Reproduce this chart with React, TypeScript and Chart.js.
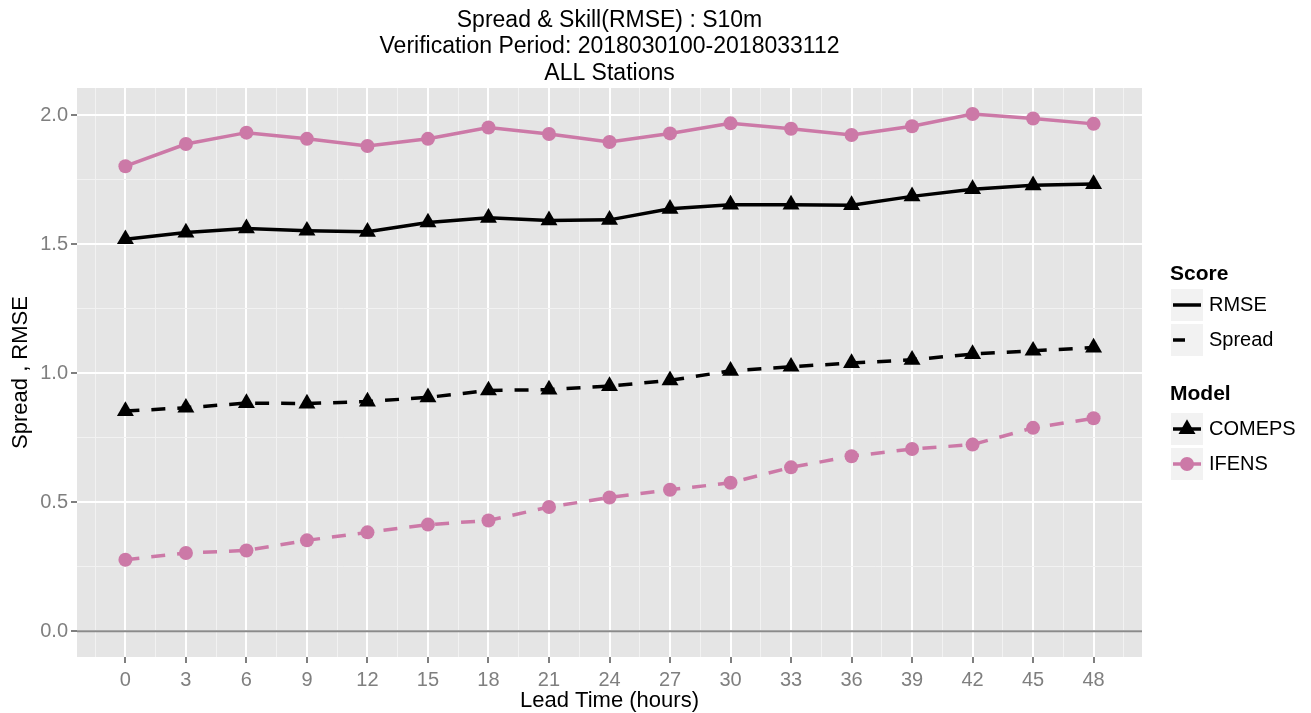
import React, { useEffect, useRef } from 'react';
import { Chart, registerables } from 'chart.js';

Chart.register(...registerables);

const TITLE_LINES = [
  'Spread & Skill(RMSE) : S10m',
  'Verification Period: 2018030100-2018033112',
  'ALL Stations',
];
const X_TITLE = 'Lead Time (hours)';
const Y_TITLE = 'Spread , RMSE';

const leadTimes = [0, 3, 6, 9, 12, 15, 18, 21, 24, 27, 30, 33, 36, 39, 42, 45, 48];
const xMinorTicks = [-1.5, 1.5, 4.5, 7.5, 10.5, 13.5, 16.5, 19.5, 22.5, 25.5, 28.5, 31.5, 34.5, 37.5, 40.5, 43.5, 46.5, 49.5];
const yMajorTicks = [0, 0.5, 1.0, 1.5, 2.0];
const yMinorTicks = [0.25, 0.75, 1.25, 1.75];

const ifensRmse = [1.802, 1.888, 1.932, 1.908, 1.880, 1.908, 1.952, 1.927, 1.896, 1.929, 1.968, 1.947, 1.923, 1.957, 2.004, 1.987, 1.966];
const comepsRmse = [1.519, 1.545, 1.561, 1.552, 1.548, 1.584, 1.602, 1.592, 1.594, 1.637, 1.653, 1.653, 1.651, 1.685, 1.713, 1.728, 1.733];
const comepsSpread = [0.853, 0.866, 0.884, 0.882, 0.890, 0.906, 0.933, 0.936, 0.950, 0.972, 1.009, 1.025, 1.039, 1.052, 1.074, 1.087, 1.099];
const ifensSpread = [0.277, 0.303, 0.313, 0.352, 0.383, 0.413, 0.429, 0.481, 0.518, 0.548, 0.575, 0.635, 0.678, 0.706, 0.723, 0.788, 0.825];

const scoreTitle = 'Score';
const scoreLabels = ['RMSE', 'Spread'];
const modelTitle = 'Model';
const modelLabels = ['COMEPS', 'IFENS'];

const FONT = "'Liberation Sans', Arial, Helvetica, sans-serif";
const PINK = '#CC79A7';
const BLACK = '#000000';
const PANEL = '#E5E5E5';
const MINOR = '#F2F2F2';
const TICK_GREY = '#7F7F7F';
const DASH = [14, 12];

const toPoints = (ys: number[]) => leadTimes.map((x, i) => ({ x, y: ys[i] }));

function drawTriangle(ctx: CanvasRenderingContext2D, x: number, y: number, r: number) {
  ctx.beginPath();
  for (let k = 0; k < 3; k++) {
    const a = (k * 2 * Math.PI) / 3;
    const px = x + Math.sin(a) * r;
    const py = y - Math.cos(a) * r;
    if (k === 0) ctx.moveTo(px, py);
    else ctx.lineTo(px, py);
  }
  ctx.closePath();
  ctx.fill();
}

const panelPlugin = {
  id: 'panelPlugin',
  beforeDraw(chart: any) {
    const { ctx, chartArea } = chart;
    ctx.save();
    ctx.fillStyle = PANEL;
    ctx.fillRect(chartArea.left, chartArea.top, chartArea.right - chartArea.left, chartArea.bottom - chartArea.top);
    ctx.restore();
  },
  beforeDatasetsDraw(chart: any) {
    const { ctx, chartArea, scales } = chart;
    const y0 = scales.y.getPixelForValue(0);
    ctx.save();
    ctx.strokeStyle = '#8A8A8A';
    ctx.lineWidth = 2;
    ctx.beginPath();
    ctx.moveTo(chartArea.left, y0);
    ctx.lineTo(chartArea.right, y0);
    ctx.stroke();
    ctx.restore();
  },
  afterDraw(chart: any) {
    const { ctx } = chart;
    ctx.save();
    const boxX = 1171;
    const boxW = 32;
    const labelX = 1209;
    // Score section
    ctx.fillStyle = BLACK;
    ctx.font = `bold 21px ${FONT}`;
    ctx.textBaseline = 'alphabetic';
    ctx.textAlign = 'left';
    ctx.fillText(scoreTitle, 1170, 280);
    const scoreY = [289, 324];
    scoreLabels.forEach((lab, i) => {
      const top = scoreY[i];
      const cy = top + boxW / 2;
      ctx.fillStyle = MINOR;
      ctx.fillRect(boxX, top, boxW, boxW);
      ctx.strokeStyle = BLACK;
      ctx.lineWidth = 3.5;
      ctx.beginPath();
      if (i === 0) {
        ctx.moveTo(boxX + 2, cy);
        ctx.lineTo(boxX + boxW - 2, cy);
      } else {
        ctx.moveTo(boxX + 2, cy);
        ctx.lineTo(boxX + 14, cy);
      }
      ctx.stroke();
      ctx.fillStyle = BLACK;
      ctx.font = `20px ${FONT}`;
      ctx.textBaseline = 'middle';
      ctx.fillText(lab, labelX, cy);
    });
    // Model section
    ctx.fillStyle = BLACK;
    ctx.font = `bold 21px ${FONT}`;
    ctx.textBaseline = 'alphabetic';
    ctx.fillText(modelTitle, 1170, 400);
    const modelY = [413, 448];
    const modelColors = [BLACK, PINK];
    modelLabels.forEach((lab, i) => {
      const top = modelY[i];
      const cy = top + boxW / 2;
      const cx = boxX + boxW / 2;
      ctx.fillStyle = MINOR;
      ctx.fillRect(boxX, top, boxW, boxW);
      ctx.strokeStyle = modelColors[i];
      ctx.lineWidth = 3.5;
      ctx.beginPath();
      ctx.moveTo(boxX + 2, cy);
      ctx.lineTo(boxX + boxW - 2, cy);
      ctx.stroke();
      ctx.fillStyle = modelColors[i];
      if (i === 0) {
        drawTriangle(ctx, cx, cy, 9.8);
      } else {
        ctx.beginPath();
        ctx.arc(cx, cy, 7, 0, Math.PI * 2);
        ctx.fill();
      }
      ctx.fillStyle = BLACK;
      ctx.font = `20px ${FONT}`;
      ctx.textBaseline = 'middle';
      ctx.fillText(lab, labelX, cy);
    });
    ctx.restore();
  },
};

export default function App() {
  const canvasRef = useRef<HTMLCanvasElement | null>(null);

  useEffect(() => {
    const canvas = canvasRef.current;
    if (!canvas) return;
    const xMajorSet = new Set(leadTimes);
    const yMajorSet = new Set(yMajorTicks);

    const lineDs = (label: string, ys: number[], color: string, dashed: boolean, style: string, radius: number) => ({
      label,
      data: toPoints(ys),
      borderColor: color,
      backgroundColor: color,
      borderWidth: 3.5,
      borderDash: dashed ? DASH : [],
      pointStyle: style,
      pointRadius: radius,
      pointBackgroundColor: color,
      pointBorderColor: color,
      pointBorderWidth: 0,
      tension: 0,
      fill: false,
    });

    const chart = new Chart(canvas, {
      type: 'line',
      data: {
        datasets: [
          lineDs('COMEPS Spread', comepsSpread, BLACK, true, 'triangle', 9.8),
          lineDs('IFENS Spread', ifensSpread, PINK, true, 'circle', 7),
          lineDs('COMEPS RMSE', comepsRmse, BLACK, false, 'triangle', 9.8),
          lineDs('IFENS RMSE', ifensRmse, PINK, false, 'circle', 7),
        ] as any,
      },
      options: {
        responsive: false,
        animation: false,
        devicePixelRatio: 1,
        events: [],
        layout: { padding: { left: 0, right: 169, top: 0, bottom: 0 } },
        plugins: {
          legend: { display: false },
          tooltip: { enabled: false },
          title: {
            display: true,
            text: TITLE_LINES,
            fullSize: false,
            color: BLACK,
            font: { family: FONT, size: 23, weight: 'normal', lineHeight: '26.5px' } as any,
            padding: { top: 7, bottom: 1.5 },
          },
        },
        scales: {
          x: {
            type: 'linear',
            min: -2.4,
            max: 50.4,
            afterBuildTicks: (s: any) => {
              s.ticks = [...leadTimes, ...xMinorTicks].sort((a, b) => a - b).map((v) => ({ value: v }));
            },
            afterFit: (s: any) => {
              s.height = 56;
            },
            border: { display: false },
            grid: {
              color: (c: any) => (c.tick && xMajorSet.has(c.tick.value) ? '#FFFFFF' : MINOR),
              lineWidth: (c: any) => (c.tick && xMajorSet.has(c.tick.value) ? 2 : 1),
              tickColor: (c: any) => (c.tick && xMajorSet.has(c.tick.value) ? TICK_GREY : 'rgba(0,0,0,0)'),
              tickLength: 6,
              tickWidth: 2,
              drawTicks: true,
            },
            ticks: {
              autoSkip: false,
              maxRotation: 0,
              minRotation: 0,
              padding: 5,
              color: TICK_GREY,
              font: { family: FONT, size: 20 },
              callback: (v: any) => (xMajorSet.has(v) ? String(v) : ''),
            },
            title: {
              display: true,
              text: X_TITLE,
              color: BLACK,
              font: { family: FONT, size: 22, lineHeight: 1 },
              padding: { top: 0, bottom: 1 },
            },
          },
          y: {
            type: 'linear',
            min: -0.1,
            max: 2.105,
            afterBuildTicks: (s: any) => {
              s.ticks = [...yMajorTicks, ...yMinorTicks].sort((a, b) => a - b).map((v) => ({ value: v }));
            },
            afterFit: (s: any) => {
              s.width = 77;
            },
            border: { display: false },
            grid: {
              color: (c: any) => (c.tick && yMajorSet.has(c.tick.value) ? '#FFFFFF' : MINOR),
              lineWidth: (c: any) => (c.tick && yMajorSet.has(c.tick.value) ? 2 : 1),
              tickColor: (c: any) => (c.tick && yMajorSet.has(c.tick.value) ? TICK_GREY : 'rgba(0,0,0,0)'),
              tickLength: 6,
              tickWidth: 2,
              drawTicks: true,
            },
            ticks: {
              autoSkip: false,
              padding: 3,
              color: TICK_GREY,
              font: { family: FONT, size: 20 },
              callback: (v: any) => (yMajorSet.has(v) ? Number(v).toFixed(1) : ''),
            },
            title: {
              display: true,
              text: Y_TITLE,
              color: BLACK,
              font: { family: FONT, size: 22, lineHeight: 1 },
              padding: { top: 10, bottom: 0 },
            },
          },
        },
      } as any,
      plugins: [panelPlugin],
    });

    return () => {
      chart.destroy();
    };
  }, []);

  return (
    <div style={{ position: 'absolute', left: 0, top: 0, width: 1311, height: 713, background: '#FFFFFF' }}>
      <canvas ref={canvasRef} width={1311} height={713} style={{ display: 'block', width: 1311, height: 713 }} />
    </div>
  );
}
